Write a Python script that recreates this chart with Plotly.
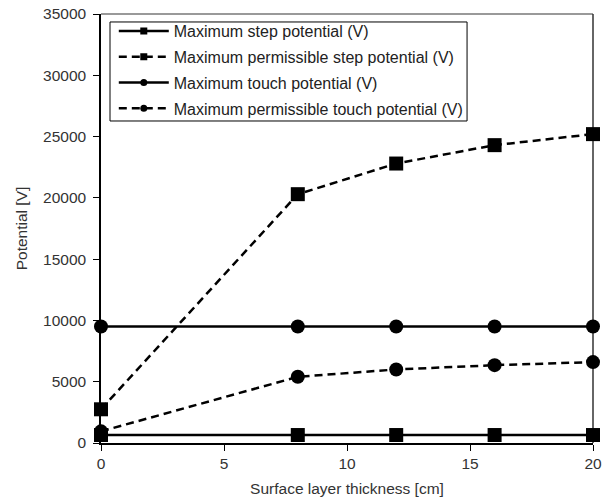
import plotly.graph_objects as go

thickness = [0, 8, 12, 16, 20]
max_step = [650, 650, 650, 650, 650]
max_perm_step = [2750, 20300, 22800, 24300, 25200]
max_touch = [9500, 9500, 9500, 9500, 9500]
max_perm_touch = [950, 5400, 6000, 6350, 6600]

names = ["Maximum step potential (V)", "Maximum permissible step potential (V)",
         "Maximum touch potential (V)", "Maximum permissible touch potential (V)"]

DASH = "8px,5px"
fig = go.Figure()
series = [(max_step, "solid", "square"), (max_perm_step, DASH, "square"),
          (max_touch, "solid", "circle"), (max_perm_touch, DASH, "circle")]
for (ys, dash, sym), nm in zip(series, names):
    fig.add_trace(go.Scatter(x=thickness, y=ys, name=nm, mode="lines+markers", showlegend=False,
                             line=dict(color="black", width=2.5, dash=dash),
                             marker=dict(symbol=sym, size=14, color="black"),
                             cliponaxis=False))
# legend-only entries with small markers, as in the reference legend
for i, ((ys, dash, sym), nm) in enumerate(zip(series, names)):
    fig.add_trace(go.Scatter(x=[None], y=[None], name=nm, mode="lines+markers",
                             legendgroup=f"g{i}",
                             line=dict(color="black", width=2.5, dash=dash),
                             marker=dict(symbol=sym, size=7, color="black")))

fig.update_layout(
    width=610, height=499,
    margin=dict(l=101, r=17, t=14, b=56, autoexpand=False),
    paper_bgcolor="white", plot_bgcolor="white",
    font=dict(family="Liberation Sans, Arial", size=15.5, color="#333"),
    showlegend=True,
    legend=dict(x=0.026, y=1.0, xanchor="left", yanchor="top",
                borderwidth=0, bgcolor="rgba(0,0,0,0)",
                font=dict(size=16, color="#222"), tracegroupgap=2, itemwidth=50),
    xaxis=dict(range=[0, 20], tickvals=[0, 5, 10, 15, 20], showgrid=False, zeroline=False,
               automargin=False,
               showline=True, linecolor="black", linewidth=1.5, ticks="outside", ticklen=6,
               tickcolor="black",
               title=dict(text="Surface layer thickness [cm]", font=dict(size=15.5, color="#333"), standoff=12)),
    yaxis=dict(range=[0, 35000], tickvals=list(range(0, 35001, 5000)), tickformat="d",
               automargin=False, ticklabelstandoff=4,
               showgrid=False, zeroline=False,
               showline=True, linecolor="black", linewidth=1.5, ticks="outside", ticklen=6,
               tickcolor="black",
               title=dict(text="Potential [V]", font=dict(size=15.5, color="#333"), standoff=12)),
)
# plot-area frame: grey top, dark right
fig.add_shape(type="line", xref="paper", yref="paper", x0=0, y0=1, x1=1, y1=1,
              line=dict(color="#777", width=1.5), layer="below")
fig.add_shape(type="line", xref="paper", yref="paper", x0=1, y0=0, x1=1, y1=1,
              line=dict(color="#333", width=1.5), layer="below")
fig.add_shape(type="rect", xref="paper", yref="paper", x0=0.0183, x1=0.744, y0=0.7506, y1=0.9814,
              line=dict(color="black", width=1), fillcolor="white", layer="below")
fig.write_html("out.html", config={"displayModeBar": False},
               post_script="document.body.style.margin='0';")
